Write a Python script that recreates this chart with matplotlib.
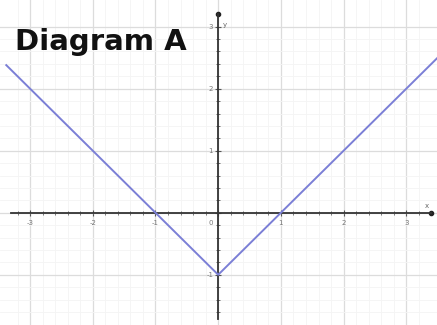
import numpy as np
import matplotlib.pyplot as plt
from matplotlib.ticker import MultipleLocator, FixedLocator

# |x| - 1
xs = [-3.38, -1, 0, 1, 3.5]
ys = [2.38, 0, -1, 0, 2.5]
x_ticks = [-3, -2, -1, 1, 2, 3]
y_ticks = [-1, 1, 2, 3]
title = 'Diagram A'

fig = plt.figure(figsize=(4.37, 3.25), dpi=100)
ax = fig.add_axes([0, 0, 1, 1])
ax.set_xlim(-3.48, 3.49)
ax.set_ylim(-1.81, 3.43)

# grid
ax.xaxis.set_major_locator(MultipleLocator(1))
ax.yaxis.set_major_locator(MultipleLocator(1))
ax.xaxis.set_minor_locator(FixedLocator(np.arange(-3.2, 3.3, 0.2)))
ax.yaxis.set_minor_locator(FixedLocator(np.arange(-1.6, 3.1, 0.2)))
ax.grid(which='major', color='#dcdcdc', lw=0.9)
ax.grid(which='minor', color='#f4f4f4', lw=0.6)
ax.set_axisbelow(True)

for s in ['top', 'right']:
    ax.spines[s].set_visible(False)
ax.spines['left'].set_position(('data', 0))
ax.spines['bottom'].set_position(('data', 0))
ax.spines['left'].set_bounds(-1.72, 3.2)
ax.spines['bottom'].set_bounds(-3.3, 3.4)
for s in ['left', 'bottom']:
    ax.spines[s].set_color('#333333')
    ax.spines[s].set_linewidth(1.3)

ax.tick_params(which='both', direction='inout', color='#555555', labelleft=False, labelbottom=False)
ax.tick_params(which='major', length=5)
ax.tick_params(which='minor', length=3)

ax.plot(xs, ys, color='#7b7fd6', lw=1.4, zorder=3)

# axis ends
ax.plot([3.4], [0], 'o', color='#222222', ms=3, clip_on=False)
ax.plot([0], [3.2], 'o', color='#222222', ms=3, clip_on=False)
ax.text(3.3, 0.08, 'x', fontsize=5, color='#666666')
ax.text(0.08, 3.0, 'y', fontsize=5, color='#666666')

for t in x_ticks:
    ax.text(t, -0.12, str(t), fontsize=5, color='#777777', ha='center', va='top')
ax.text(-0.08, -0.12, '0', fontsize=5, color='#777777', ha='right', va='top')
for t in y_ticks:
    ax.text(-0.08, t, str(t), fontsize=5, color='#777777', ha='right', va='center')

fig.text(0.035, 0.87, title, fontsize=21, fontweight='bold', color='#111111', va='center', ha='left')

fig.savefig('out.png', dpi=100)
